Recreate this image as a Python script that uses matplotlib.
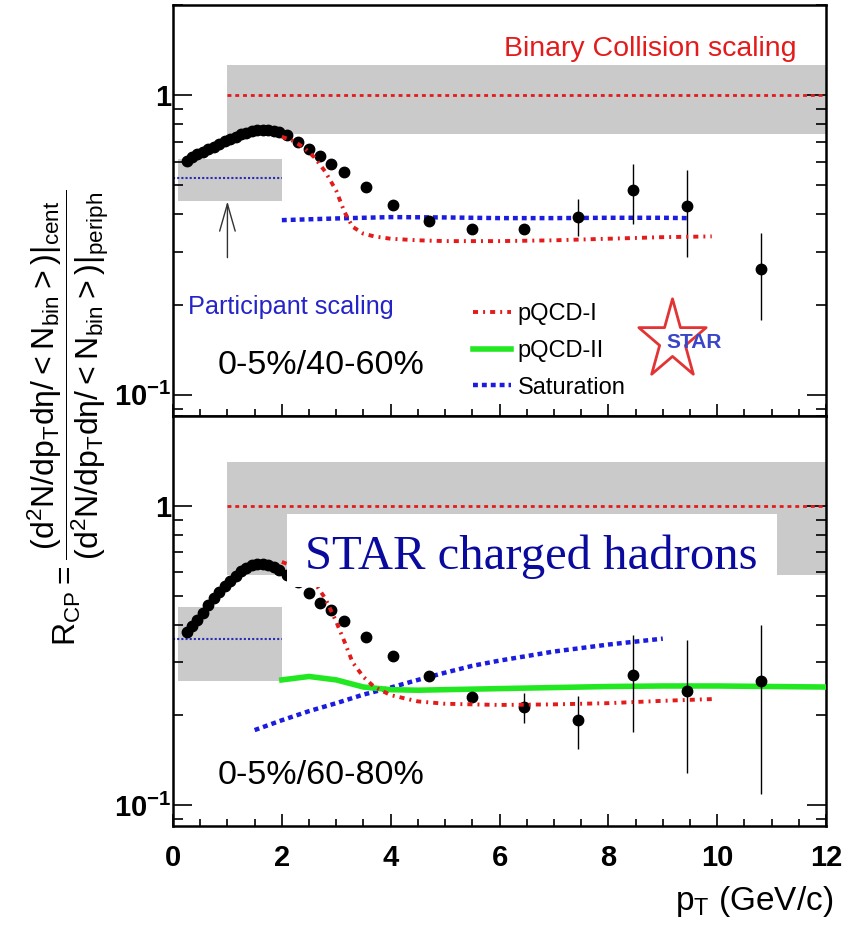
import numpy as np
import matplotlib
matplotlib.use('Agg')
from matplotlib import pyplot as plt
from matplotlib.lines import Line2D
from matplotlib.path import Path
from matplotlib.patches import Rectangle
from matplotlib.ticker import FixedLocator, FixedFormatter, MultipleLocator, LogLocator, NullFormatter

plt.rcParams['font.family'] = ['Liberation Sans', 'DejaVu Sans']
plt.rcParams['mathtext.default'] = 'regular'

# measured R_CP, charged hadrons
pt = [0.25, 0.35, 0.45, 0.55, 0.65, 0.75, 0.85, 0.95, 1.05, 1.15, 1.25, 1.35, 1.45, 1.55, 1.65,
      1.75, 1.85, 1.95, 2.1, 2.3, 2.5, 2.7, 2.9, 3.15, 3.55, 4.05, 4.7, 5.5, 6.45, 7.45, 8.45,
      9.45, 10.8]
rcp_40_60 = [0.603, 0.620, 0.636, 0.648, 0.661, 0.673, 0.687, 0.702, 0.716, 0.728, 0.740, 0.750,
             0.758, 0.763, 0.766, 0.764, 0.760, 0.752, 0.735, 0.697, 0.660, 0.625, 0.590, 0.553,
             0.495, 0.430, 0.380, 0.359, 0.359, 0.393, 0.482, 0.428, 0.264]
err_lo_40_60 = [0] * 29 + [0.055, 0.109, 0.139, 0.086]
err_hi_40_60 = [0] * 29 + [0.057, 0.107, 0.135, 0.083]

rcp_60_80 = [0.378, 0.397, 0.416, 0.437, 0.466, 0.491, 0.516, 0.538, 0.562, 0.585, 0.605, 0.621,
             0.634, 0.642, 0.641, 0.636, 0.626, 0.612, 0.590, 0.555, 0.512, 0.474, 0.448, 0.414,
             0.365, 0.316, 0.270, 0.229, 0.213, 0.193, 0.272, 0.241, 0.259]
err_lo_60_80 = [0] * 28 + [0.025, 0.039, 0.096, 0.113, 0.150]
err_hi_60_80 = [0] * 28 + [0.023, 0.038, 0.097, 0.116, 0.142]

# model curves
pqcd1_pt = [2.0, 2.2, 2.4, 2.6, 2.8, 3.0, 3.15, 3.3, 3.5, 3.7, 4.0, 4.5, 5.0, 6.0, 7.0, 8.0, 9.0, 9.9]
pqcd1_40_60 = [0.727, 0.705, 0.670, 0.620, 0.555, 0.480, 0.408, 0.364, 0.345, 0.338, 0.332, 0.328,
               0.326, 0.326, 0.328, 0.332, 0.336, 0.338]
pqcd1_60_80 = [0.650, 0.630, 0.600, 0.555, 0.490, 0.410, 0.352, 0.300, 0.268, 0.248, 0.233, 0.222,
               0.218, 0.216, 0.217, 0.219, 0.223, 0.226]

pqcd2_pt = [2.0, 2.5, 3.0, 3.5, 4.0, 4.5, 5.0, 6.0, 7.0, 8.0, 9.0, 10.0, 11.0, 12.0]
pqcd2_60_80 = [0.262, 0.269, 0.262, 0.248, 0.243, 0.242, 0.243, 0.245, 0.247, 0.249, 0.250, 0.250,
               0.249, 0.248]

sat_pt_40_60 = [2.0, 3.0, 4.0, 5.0, 6.0, 7.0, 8.0, 9.0, 9.45]
sat_40_60 = [0.383, 0.388, 0.392, 0.391, 0.389, 0.389, 0.390, 0.390, 0.389]
sat_pt_60_80 = [1.5, 2.0, 2.5, 3.0, 3.5, 4.0, 4.5, 5.0, 5.5, 6.0, 7.0, 8.0, 9.0]
sat_60_80 = [0.178, 0.192, 0.206, 0.219, 0.234, 0.247, 0.262, 0.277, 0.292, 0.304, 0.326, 0.344, 0.360]

# scaling references: x range, level, band low/high
binary_x = [1, 12]
binary_band_40_60 = [0.745, 1.26]
binary_band_60_80 = [0.59, 1.405]
part_x = [0, 2]
part_band_x = [0.1, 2]
part_40_60 = 0.528
part_band_40_60 = [0.445, 0.615]
part_60_80 = 0.359
part_band_60_80 = [0.259, 0.458]

RED = '#e31b1b'
BLUE = '#1c1ce0'
GREEN = '#22e822'
GREY = '#cacaca'


def style_axis(ax):
    ax.set_yscale('log')
    ax.set_ylim(0.085, 2.0)
    ax.set_xlim(0, 12)
    ax.yaxis.set_major_locator(FixedLocator([0.1, 1]))
    ax.yaxis.set_major_formatter(FixedFormatter([r'$10^{-1}$', '1']))
    ax.yaxis.set_minor_locator(LogLocator(subs=np.arange(2, 10)))
    ax.yaxis.set_minor_formatter(NullFormatter())
    ax.xaxis.set_major_locator(MultipleLocator(2))
    ax.xaxis.set_minor_locator(MultipleLocator(0.5))
    ax.tick_params(which='both', direction='in', right=True, top=False, width=1.2)
    ax.tick_params(axis='y', which='major', length=14, labelsize=21, pad=1)
    ax.tick_params(axis='y', which='minor', length=7)
    ax.tick_params(axis='x', which='major', length=9, labelsize=21, pad=13)
    ax.tick_params(axis='x', which='minor', length=5)
    for sp in ax.spines.values():
        sp.set_linewidth(1.8)
    plt.setp(ax.get_yticklabels() + ax.get_xticklabels(), fontweight='bold')


def draw_panel(ax, rcp, lo, hi, band_bin, part_level, part_band, pqcd1):
    ax.fill_between(binary_x, band_bin[0], band_bin[1], color=GREY, lw=0, zorder=1)
    ax.fill_between(part_band_x, part_band[0], part_band[1], color=GREY, lw=0, zorder=1)
    ax.plot(binary_x, [1, 1], color=RED, lw=2, dashes=(1.4, 1.4), zorder=2)
    ax.plot(part_x, [part_level] * 2, color='#2a2ab8', lw=1.5, dashes=(1, 1), zorder=2)
    ax.errorbar(pt, rcp, yerr=[lo, hi], fmt='o', color='k', ms=7.5, elinewidth=1, capsize=0, zorder=4)
    line, = ax.plot(pqcd1_pt, pqcd1, color=RED, lw=2.8, dashes=(1.3, 1.3, 0.5, 1.3), zorder=5)
    return line


fig = plt.figure(figsize=(8.46, 9.32), dpi=100)
ax_top = fig.add_axes([0.2045, 0.5536, 0.7719, 0.4410])
ax_bot = fig.add_axes([0.2045, 0.1137, 0.7719, 0.4399])

# upper panel: 0-5% / 40-60%
l_pqcd1 = draw_panel(ax_top, rcp_40_60, err_lo_40_60, err_hi_40_60, binary_band_40_60,
                     part_40_60, part_band_40_60, pqcd1_40_60)
l_sat, = ax_top.plot(sat_pt_40_60, sat_40_60, color=BLUE, lw=3.2, dashes=(1.1, 0.9), zorder=3)
l_pqcd2 = Line2D([], [], color=GREEN, lw=4)
ax_top.annotate('', xy=(1, 0.452), xytext=(1, 0.281),
                arrowprops=dict(arrowstyle='->,head_length=1.4,head_width=0.4', lw=1,
                                color='#333333', mutation_scale=14))
ax_top.text(8.77, 1.35, 'Binary Collision scaling', color=RED, fontsize=20.5, ha='center', va='baseline')
ax_top.text(0.276, 0.1866, 'Participant scaling', color='#2424c8', fontsize=18.2, va='baseline')
ax_top.text(0.827, 0.1175, '0-5%/40-60%', fontsize=24.6, va='baseline')
ax_top.legend([l_pqcd1, l_pqcd2, l_sat], ['pQCD-I', 'pQCD-II', 'Saturation'], loc='upper left',
              bbox_to_anchor=(0.459, 0.274), frameon=False, fontsize=17, handlelength=1.6,
              handletextpad=0.3, labelspacing=0.62, borderpad=0, borderaxespad=0)

# STAR logo
ang = np.pi / 2 + np.arange(10) * np.pi / 5
rad = np.tile([1.0, 0.382], 5)
star_xy = np.column_stack([0.85 * rad * np.cos(ang), rad * np.sin(ang)])
star = Path(np.vstack([star_xy, star_xy[:1]]), closed=True)
ax_top.plot([9.17], [0.152], marker=star, ms=60, mfc='none', mec='#e23434', mew=2, zorder=6)
ax_top.text(9.58, 0.149, 'STAR', color='#3a46c8', fontsize=15, fontweight='bold',
            ha='center', va='center', zorder=7)

# lower panel: 0-5% / 60-80%
draw_panel(ax_bot, rcp_60_80, err_lo_60_80, err_hi_60_80, binary_band_60_80,
           part_60_80, part_band_60_80, pqcd1_60_80)
ax_bot.plot(sat_pt_60_80, sat_60_80, color=BLUE, lw=3.2, dashes=(1.1, 0.9), zorder=3)
ax_bot.plot(pqcd2_pt, pqcd2_60_80, color=GREEN, lw=4, zorder=3)
ax_bot.text(0.827, 0.1176, '0-5%/60-80%', fontsize=24.6, va='baseline')
ax_bot.add_patch(Rectangle((2.09, 0.534), 9.01, 0.404, facecolor='white', edgecolor='none', zorder=10))
ax_bot.text(6.58, 0.614, 'STAR charged hadrons', family='Liberation Serif', fontsize=35,
            color='#0a0a9e', ha='center', va='baseline', zorder=11)

style_axis(ax_top)
style_axis(ax_bot)
ax_top.tick_params(labelbottom=False)

fig.text(0.080, 0.552,
         r'$R_{CP} = \dfrac{(d^{2}N/dp_{T}dη/<N_{bin}>)|_{cent}}{(d^{2}N/dp_{T}dη/<N_{bin}>)|_{periph}}$',
         rotation=90, ha='center', va='center', fontsize=23)
fig.text(833 / 846, 1 - 910 / 932, r'$p_{T}$ (GeV/c)', ha='right', va='baseline', fontsize=24)

fig.savefig('out.png', dpi=100)
